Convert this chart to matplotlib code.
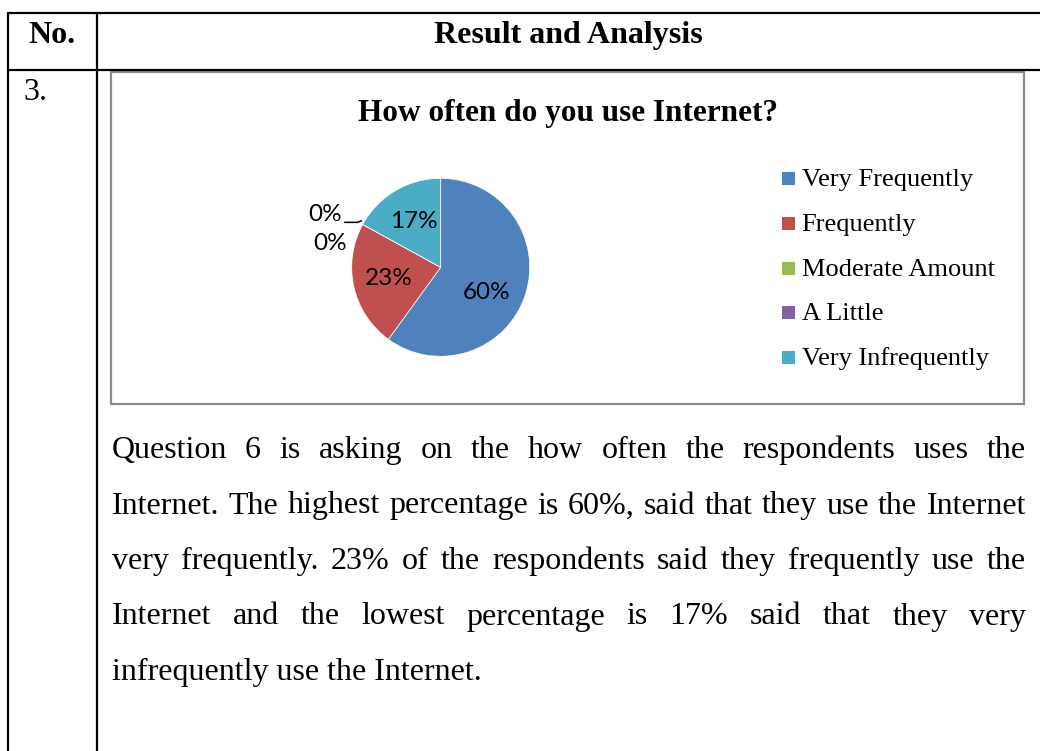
import numpy as np
import matplotlib.pyplot as plt
from matplotlib.patches import Rectangle

# data
categories = ["Very Frequently", "Frequently", "Moderate Amount", "A Little", "Very Infrequently"]
percent = [60, 23, 0, 0, 17]
colors = ["#4F81BD", "#C0504D", "#9BBB59", "#8064A2", "#4BACC6"]

title = "How often do you use Internet?"
body_lines = [
    "Question 6 is asking on the how often the respondents uses the",
    "Internet. The highest percentage is 60%, said that they use the Internet",
    "very frequently. 23% of the respondents said they frequently use the",
    "Internet and the lowest percentage is 17% said that they very",
    "infrequently use the Internet.",
]

W, H = 1040, 751
serif = "Liberation Serif"

fig = plt.figure(figsize=(W / 100, H / 100), dpi=100)
fig.patch.set_facecolor("white")

# page axes in pixel units (y down)
page = fig.add_axes([0, 0, 1, 1])
page.set_xlim(0, W)
page.set_ylim(H, 0)
page.axis("off")

# table grid
page.hlines([13, 70], 7, W, color="black", lw=1.6)
page.vlines([8, 97], 13, H, color="black", lw=1.6)

page.text(52, 43, "No.", fontsize=23, family=serif, weight="bold", ha="center", va="baseline")
page.text(568, 43, "Result and Analysis", fontsize=23, family=serif, weight="bold", ha="center", va="baseline")
page.text(23, 100, "3.", fontsize=23, family=serif, ha="left", va="baseline")

# chart frame
page.add_patch(Rectangle((111, 72), 1024 - 111, 404 - 72, fill=False, edgecolor="#8C8C8C", lw=1.6))
page.text(568, 121, title, fontsize=22.5, family=serif, weight="bold", ha="center", va="baseline")

# pie
cx, cy, R = 440.7, 267.3, 89
pie_ax = fig.add_axes([(cx - R) / W, (H - cy - R) / H, 2 * R / W, 2 * R / H])
wedges, _ = pie_ax.pie(percent, colors=colors, startangle=90, counterclock=False, radius=1,
                       wedgeprops=dict(edgecolor="white", linewidth=0.5))
pie_ax.set_xlim(-1, 1)
pie_ax.set_ylim(-1, 1)

lab_font = dict(fontsize=17.5, family="Lato", color="black", ha="center", va="center")
for i, (w, p) in enumerate(zip(wedges, percent)):
    if p == 0:
        continue
    mid = np.deg2rad((w.theta1 + w.theta2) / 2)
    x, y = 0.6 * np.cos(mid), 0.6 * np.sin(mid)
    if i == 0:
        x, y = x - 0.05, y - 0.10
    pie_ax.text(x, y, f"{p}%", **lab_font)

# the two zero slices sit on the red/cyan boundary
pie_ax.text(-1.245, 0.262, f"{percent[2]}%", **lab_font)
pie_ax.text(-1.30, 0.588, f"{percent[3]}%", **lab_font)
pie_ax.plot([-1.085, -0.935, -0.885], [0.505, 0.505, 0.525], color="black", lw=1.1,
            clip_on=False, solid_capstyle="butt")

# legend
for i, (lab, c) in enumerate(zip(categories, colors)):
    base = 186 + 44.8 * i
    page.add_patch(Rectangle((782, base - 14), 13, 13, facecolor=c, edgecolor="none"))
    page.text(801.5, base, lab, fontsize=19, family=serif, ha="left", va="baseline")

# justified body text
left, right = 111.5, 1026
baselines = [458, 513.5, 569, 624.5, 680]
renderer = fig.canvas.get_renderer()
for k, (line, yb) in enumerate(zip(body_lines, baselines)):
    if k == len(body_lines) - 1:
        page.text(left, yb, line, fontsize=23, family=serif, ha="left", va="baseline")
        continue
    words = line.split()
    items = [page.text(0, yb, wd, fontsize=23, family=serif, ha="left", va="baseline") for wd in words]
    widths = [t.get_window_extent(renderer).width for t in items]
    gap = (right - left - sum(widths)) / (len(items) - 1)
    x = left
    for t, wdt in zip(items, widths):
        t.set_x(x)
        x += wdt + gap

fig.savefig("out.png", dpi=100, facecolor="white")
